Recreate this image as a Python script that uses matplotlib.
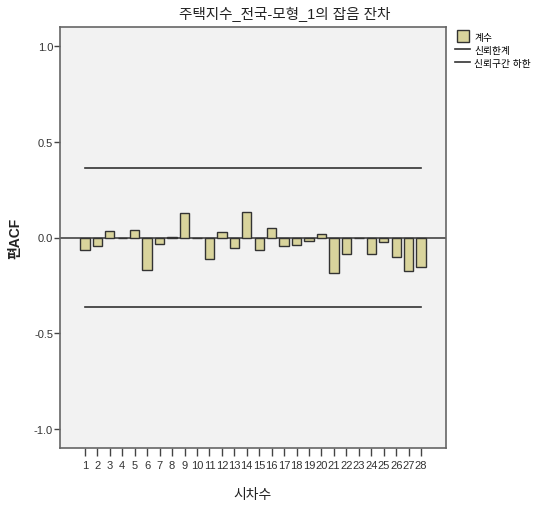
import numpy as np
import matplotlib.pyplot as plt
from matplotlib.lines import Line2D

plt.rcParams['font.family'] = ['Liberation Sans', 'Noto Sans CJK KR', 'DejaVu Sans']

lags = list(range(1, 29))
pacf = [-0.066, -0.044, 0.035, -0.004, 0.038, -0.168, -0.035, 0.004, 0.126, -0.004,
        -0.112, 0.030, -0.054, 0.134, -0.063, 0.051, -0.047, -0.037, -0.016, 0.019,
        -0.188, -0.087, -0.004, -0.087, -0.024, -0.101, -0.176, -0.154]
conf_limit = 0.361

title = '주택지수_전국-모형_1의 잡음 잔차'
legend_labels = ['계수', '신뢰한계', '신뢰구간 하한']

fig = plt.figure(figsize=(5.44, 5.06), dpi=100)
ax = fig.add_axes([60/544, 1-449/506, 386/544, 421/506])
ax.set_facecolor('#f2f2f2')

ax.bar(lags, pacf, width=0.75, color='#d9d49c', edgecolor='#333333', linewidth=1.0, zorder=3)
ax.axhline(0, color='#444444', linewidth=1.2, zorder=2)
ax.plot([lags[0], lags[-1]], [conf_limit, conf_limit], color='#333333', linewidth=1.2)
ax.plot([lags[0], lags[-1]], [-conf_limit, -conf_limit], color='#333333', linewidth=1.2)

ax.set_xlim(-1, 30)
ax.set_ylim(-1.1, 1.1)
ax.set_xticks(lags)
ax.set_xticklabels([str(l) for l in lags], fontsize=8, color='#333333')
ax.set_yticks([-1.0, -0.5, 0.0, 0.5, 1.0])
ax.set_yticklabels(['-1.0', '-0.5', '0.0', '0.5', '1.0'], fontsize=8, color='#333333')
ax.tick_params(axis='x', length=6, width=1, pad=3, color='#444444')
ax.tick_params(axis='y', length=4, width=1, pad=1, color='#444444')
for s in ax.spines.values():
    s.set_color('#666666')
    s.set_linewidth(1.2)

ax.set_xlabel('시차수', fontsize=10, color='#222222', labelpad=12)
ax.set_ylabel('편ACF', fontsize=10, fontweight='bold', color='#222222', labelpad=8)
fig.text(285/544, 1-14/506, title, fontsize=10.5, ha='center', va='center', color='#222222')

# legend: square swatch for bars, plain lines for limits
handles = [Line2D([], [], linestyle='none', marker='s', markersize=8,
                  markerfacecolor='#d9d49c', markeredgecolor='#333333', markeredgewidth=1.0),
           Line2D([], [], color='#333333', linewidth=1.2),
           Line2D([], [], color='#333333', linewidth=1.2)]
fig.legend(handles, legend_labels, loc='upper left', bbox_to_anchor=(448/544, 1-26/506),
           frameon=False, fontsize=7, handlelength=1.6, handletextpad=0.4,
           labelspacing=0.3, borderpad=0.2)

fig.savefig('out.png', dpi=100, facecolor='white')
